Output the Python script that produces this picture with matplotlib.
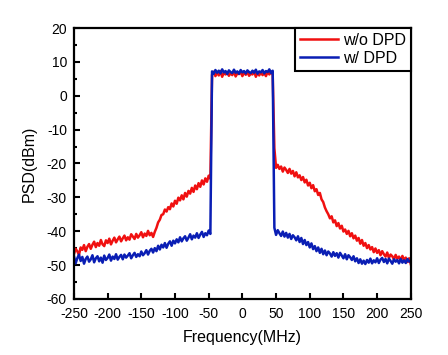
import numpy as np
import matplotlib
matplotlib.use("Agg")
import matplotlib.pyplot as plt
from matplotlib.ticker import MultipleLocator

plt.rcParams['font.family'] = ['Liberation Sans', 'DejaVu Sans']
plt.rcParams['axes.unicode_minus'] = False

# frequency grids (MHz)
f_left = np.arange(-250, -46, 2.5)     # -250 ... -47.5
f_band = np.arange(-45, 45.1, 2.5)     # -45 ... 45
f_right = np.arange(47.5, 250.1, 2.5)  # 47.5 ... 250

# PSD w/o DPD (dBm)
red_left = [
    -46.8, -45.2, -45.9, -47.0, -44.8, -45.5, -44.1, -45.9, -44.6, -43.8,
    -45.2, -44.0, -43.1, -44.7, -43.5, -44.3, -42.6, -43.9, -44.4, -42.7,
    -43.5, -42.2, -43.9, -42.8, -41.9, -43.3, -42.4, -41.6, -43.0, -42.1,
    -41.3, -42.7, -41.8, -42.5, -40.9, -41.6, -42.3, -40.8, -41.9, -41.2,
    -40.3, -41.8, -40.7, -41.4, -39.9, -41.2, -40.5, -41.7, -40.2, -39.0,
    -37.4, -36.6, -35.2, -35.0, -33.6, -34.2, -32.9, -33.5, -31.8, -32.7,
    -31.0, -31.9, -30.1, -30.9, -29.4, -30.6, -28.7, -29.8, -28.1, -28.9,
    -27.2, -28.4, -26.5, -27.6, -25.8, -26.9, -25.0, -26.2, -24.4, -25.4,
    -23.6, -24.5]
red_band = [
    6.2, 7.1, 5.8, 6.9, 6.0, 7.3, 5.6, 6.8, 6.3, 7.0,
    5.9, 6.7, 6.1, 7.2, 5.7, 6.6, 6.4, 7.0, 5.8, 6.9,
    6.2, 7.1, 5.9, 6.5, 6.3, 7.2, 5.6, 6.8, 6.0, 7.0,
    6.1, 6.7, 5.8, 7.1, 6.3, 6.9, 6.4]
red_right = [
    -15.5, -21.3, -20.4, -21.6, -20.9, -22.4, -21.2, -21.9, -22.8, -21.6,
    -23.0, -22.2, -23.8, -22.6, -24.1, -23.5, -24.9, -24.0, -25.6, -24.8,
    -26.5, -25.7, -27.3, -26.4, -28.2, -27.6, -29.3, -28.7, -30.6, -31.4,
    -33.0, -34.1, -35.0, -36.2, -35.6, -37.4, -36.8, -38.5, -37.6, -39.2,
    -38.4, -40.1, -39.5, -40.8, -39.9, -41.5, -40.6, -42.1, -41.3, -42.8,
    -42.0, -43.7, -42.6, -44.3, -43.5, -45.0, -44.1, -45.4, -44.7, -46.2,
    -45.1, -46.4, -45.6, -47.1, -45.9, -46.8, -47.5, -46.3, -47.9, -46.9,
    -47.4, -48.3, -47.0, -48.1, -47.5, -48.7, -47.3, -48.5, -47.8, -49.1,
    -48.0, -49.8]

# PSD w/ DPD (dBm)
blue_left = [
    -47.3, -49.5, -48.0, -46.9, -48.8, -47.6, -49.6, -48.2, -47.5, -49.0,
    -48.3, -47.1, -49.2, -48.0, -47.4, -48.9, -47.8, -49.3, -47.2, -48.5,
    -47.9, -46.9, -48.7, -47.5, -48.2, -46.8, -48.4, -47.6, -47.0, -48.3,
    -46.9, -47.8, -47.2, -46.5, -48.0, -47.1, -46.4, -47.6, -46.8, -47.4,
    -46.0, -47.1, -46.5, -45.6, -46.9, -45.8, -45.2, -46.3, -45.0, -45.9,
    -44.3, -45.4, -44.0, -44.8, -43.5, -44.9, -43.7, -43.0, -44.3, -42.8,
    -43.6, -42.4, -43.3, -41.8, -43.0, -42.1, -41.5, -42.8, -41.9, -40.9,
    -42.4, -41.3, -41.9, -40.6, -42.0, -41.0, -40.2, -41.7, -40.6, -41.2,
    -39.8, -40.8]
blue_band = [
    7.2, 6.5, 7.6, 6.8, 7.4, 6.6, 7.8, 6.9, 7.3, 6.4,
    7.5, 7.0, 6.7, 7.7, 6.8, 7.2, 6.5, 7.6, 6.9, 7.3,
    6.6, 7.5, 7.0, 6.7, 7.4, 6.8, 7.7, 6.5, 7.2, 6.9,
    7.6, 6.6, 7.3, 7.0, 7.8, 6.7, 7.4]
blue_right = [
    -39.0, -41.1, -39.7, -40.6, -41.4, -40.1, -41.6, -40.5, -41.9, -40.8,
    -42.3, -41.2, -41.8, -42.7, -41.5, -43.2, -42.0, -43.8, -42.6, -44.1,
    -43.2, -44.8, -43.6, -45.3, -44.4, -45.9, -44.8, -46.4, -45.2, -46.8,
    -45.7, -47.1, -46.0, -46.6, -47.5, -46.2, -47.3, -46.5, -47.8, -46.4,
    -47.2, -48.0, -46.8, -48.3, -47.1, -47.7, -48.5, -47.4, -48.9, -48.0,
    -49.4, -48.3, -49.6, -48.7, -49.7, -48.5, -49.3, -48.1, -49.5, -48.6,
    -49.2, -48.0, -49.4, -48.4, -47.9, -49.1, -48.2, -49.5, -48.1, -48.8,
    -49.6, -48.3, -49.0, -48.5, -49.5, -48.2, -49.3, -48.6, -49.4, -48.2,
    -49.0, -48.7]

freq = np.concatenate([f_left, f_band, f_right])
psd_wo = np.concatenate([red_left, red_band, red_right])
psd_w = np.concatenate([blue_left, blue_band, blue_right])

fig = plt.figure(figsize=(4.48, 3.55), dpi=100)
ax = fig.add_axes([0.165, 0.158, 0.752, 0.763])

ax.plot(freq, psd_wo, color='#f01010', lw=1.8, label='w/o DPD')
ax.plot(freq, psd_w, color='#0a1eb4', lw=1.8, label='w/ DPD')

ax.set_xlim(-250, 250)
ax.set_ylim(-60, 20)
ax.xaxis.set_major_locator(MultipleLocator(50))
ax.yaxis.set_major_locator(MultipleLocator(10))
ax.yaxis.set_minor_locator(MultipleLocator(5))
ax.tick_params(which='both', direction='in', top=False, right=False,
               labelsize=10, width=1.5)
ax.tick_params(which='major', length=4)
ax.tick_params(which='minor', length=2)
ax.tick_params(axis='x', pad=6)
ax.tick_params(axis='y', pad=5)
for s in ax.spines.values():
    s.set_linewidth(1.6)

ax.set_xlabel('Frequency(MHz)', fontsize=11.5, labelpad=6)
ax.set_ylabel('PSD(dBm)', fontsize=11.5, labelpad=7)

leg = ax.legend(loc='upper right', fontsize=11.5, borderaxespad=0,
                fancybox=False, handlelength=2.4, handletextpad=0.3,
                borderpad=0.3, labelspacing=0.2, framealpha=1)
leg.get_frame().set_edgecolor('black')
leg.get_frame().set_linewidth(1.5)

fig.savefig('out.png', dpi=100)
